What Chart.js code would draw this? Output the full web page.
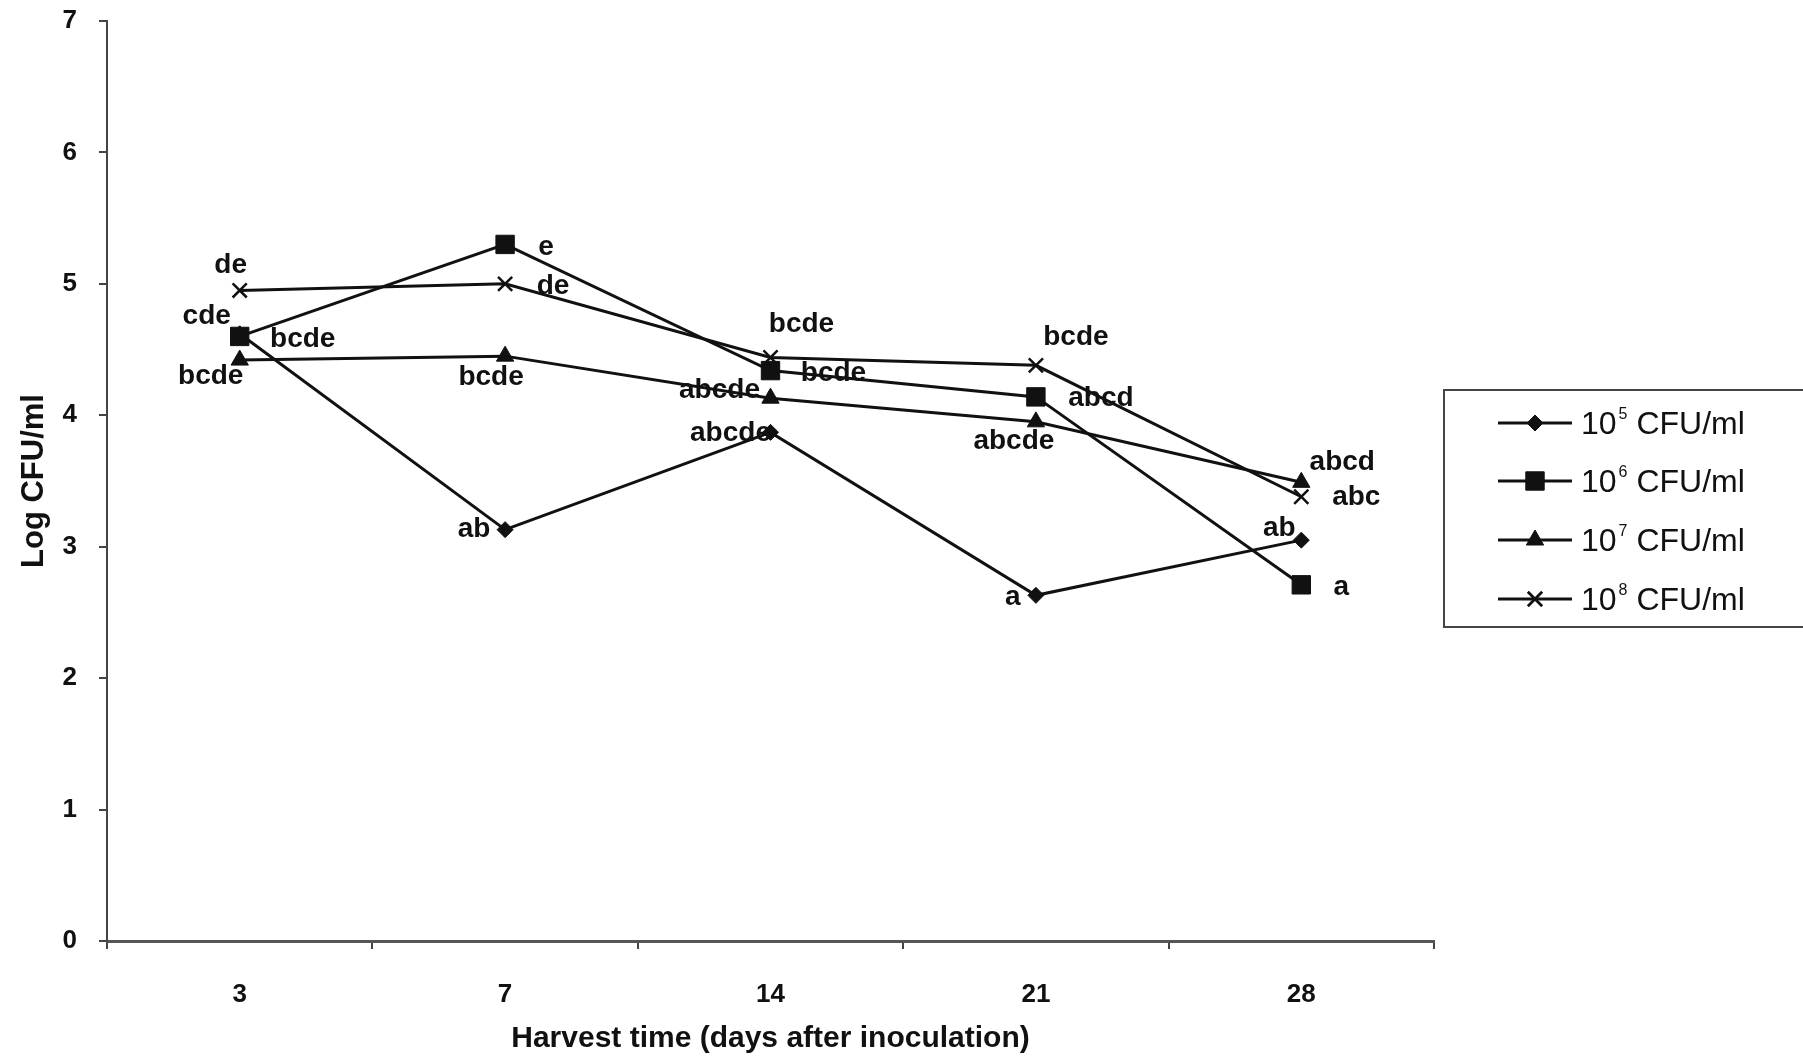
<!DOCTYPE html>
<html>
<head>
<meta charset="utf-8">
<script src="https://cdn.jsdelivr.net/npm/chart.js@4.4.0/dist/chart.umd.min.js"></script>
<style>
  html, body { margin: 0; background: #fff; }
  canvas { display: block; }
</style>
</head>
<body>
<canvas id="myChart" width="1803" height="1061"></canvas>
<script>
// Harvest days (x categories)
var days = ['3', '7', '14', '21', '28'];
var yTicks = [0, 1, 2, 3, 4, 5, 6, 7];

// Log CFU/ml per inoculum level
var cfu5 = [4.62, 3.13, 3.87, 2.63, 3.05];
var cfu6 = [4.60, 5.30, 4.34, 4.14, 2.71];
var cfu7 = [4.42, 4.45, 4.13, 3.95, 3.49];
var cfu8 = [4.95, 5.00, 4.44, 4.38, 3.38];

// significance letters
var letters5 = ['cde', 'ab', 'abcde', 'a', 'ab'];
var letters6 = ['bcde', 'e', 'bcde', 'abcd', 'a'];
var letters7 = ['bcde', 'bcde', 'abcde', 'abcde', 'abcd'];
var letters8 = ['de', 'de', 'bcde', 'bcde', 'abc'];

var exponents = ['5', '6', '7', '8'];

// where each letter sits relative to its point (px)
var labelOffsets = [
    [[-33, -18], [-31, 0], [-40, 1], [-23, 2], [-22, -12]],
    [[63, 3], [41, 3], [63, 3], [65, 1], [40, 2]],
    [[-29, 16], [-14, 21], [-51, -8], [-22, 19], [41, -20]],
    [[-9, -25], [48, 2], [31, -33], [40, -28], [55, 1]]
];

var ink = '#111';
var FONT = "'Liberation Sans', Arial, sans-serif";
Chart.defaults.font.family = FONT;
Chart.defaults.color = ink;

var styles = [
    { pointStyle: 'rectRot', pointRadius: 8 },
    { pointStyle: 'rect', pointRadius: 13 },
    { pointStyle: 'triangle', pointRadius: 10 },
    { pointStyle: 'crossRot', pointRadius: 10 }
];
var allLetters = [letters5, letters6, letters7, letters8];

function makeSet(data, i) {
    return {
        label: '10' + exponents[i] + ' CFU/ml',
        data: data,
        borderColor: ink,
        backgroundColor: ink,
        borderWidth: 3,
        pointStyle: styles[i].pointStyle,
        pointRadius: styles[i].pointRadius,
        pointBackgroundColor: ink,
        pointBorderColor: ink,
        pointBorderWidth: i === 3 ? 2.5 : 1,
        tension: 0,
        order: i === 0 ? 1 : 0
    };
}

// letters next to the points
var letterPlugin = {
    id: 'letters',
    afterDatasetsDraw: function(chart) {
        var ctx = chart.ctx;
        ctx.save();
        ctx.font = 'bold 28px ' + FONT;
        ctx.fillStyle = ink;
        ctx.textAlign = 'center';
        ctx.textBaseline = 'middle';
        allLetters.forEach(function(lts, i) {
            var meta = chart.getDatasetMeta(i);
            lts.forEach(function(t, j) {
                var p = meta.data[j];
                ctx.fillText(t, p.x + labelOffsets[i][j][0], p.y + labelOffsets[i][j][1]);
            });
        });
        ctx.restore();
    }
};

// boxed legend on the right with superscript exponents
var legendPlugin = {
    id: 'boxLegend',
    afterDraw: function(chart) {
        var ctx = chart.ctx;
        ctx.save();
        ctx.strokeStyle = '#444';
        ctx.lineWidth = 2;
        ctx.strokeRect(1444, 390, 380, 237);
        var rows = [423, 481, 540, 599];
        chart.data.datasets.forEach(function(ds, i) {
            var y = rows[i];
            ctx.strokeStyle = ink;
            ctx.lineWidth = 3;
            ctx.beginPath();
            ctx.moveTo(1498, y);
            ctx.lineTo(1572, y);
            ctx.stroke();
            ctx.fillStyle = ink;
            ctx.lineWidth = i === 3 ? 2.5 : 1;
            Chart.helpers.drawPoint(ctx, {
                pointStyle: ds.pointStyle,
                radius: ds.pointRadius,
                rotation: 0,
                borderWidth: ctx.lineWidth
            }, 1535, y);
            if (i === 3) ctx.stroke();
            ctx.textBaseline = 'middle';
            ctx.textAlign = 'left';
            ctx.font = '32px ' + FONT;
            var x = 1581;
            ctx.fillText('10', x, y + 2);
            x += ctx.measureText('10').width + 2;
            ctx.font = '16px ' + FONT;
            ctx.fillText(exponents[i], x, y - 8);
            x += ctx.measureText(exponents[i]).width;
            ctx.font = '32px ' + FONT;
            ctx.fillText(' CFU/ml', x, y + 2);
        });
        ctx.restore();
    }
};

var ctx = document.getElementById('myChart').getContext('2d');
var chart = new Chart(ctx, {
    type: 'line',
    data: {
        labels: days,
        datasets: [makeSet(cfu5, 0), makeSet(cfu6, 1), makeSet(cfu7, 2), makeSet(cfu8, 3)]
    },
    options: {
        responsive: false,
        animation: false,
        layout: { padding: { top: 21, right: 369, left: 0, bottom: 0 } },
        plugins: {
            legend: { display: false },
            tooltip: { enabled: false }
        },
        scales: {
            x: {
                offset: true,
                grid: { offset: true, drawOnChartArea: false, drawTicks: true, tickLength: 8, color: '#444', lineWidth: 2 },
                border: { color: '#555', width: 3 },
                ticks: { font: { size: 26, weight: 'bold' }, color: ink, padding: 30 },
                title: {
                    display: true,
                    text: 'Harvest time (days after inoculation)',
                    font: { size: 30, weight: 'bold' },
                    color: ink,
                    padding: { top: 0, bottom: 4 }
                },
                afterFit: function(scale) { scale.height = 120; }
            },
            y: {
                min: 0,
                max: 7,
                afterBuildTicks: function(scale) {
                    scale.ticks = yTicks.map(function(v) { return { value: v }; });
                },
                grid: { drawOnChartArea: false, drawTicks: true, tickLength: 8, color: '#444', lineWidth: 2 },
                border: { color: '#444', width: 2 },
                ticks: { font: { size: 26, weight: 'bold' }, color: ink, padding: 22 },
                title: {
                    display: true,
                    text: 'Log CFU/ml',
                    font: { size: 31, weight: 'bold' },
                    color: ink,
                    padding: { top: 16, bottom: 0 }
                },
                afterFit: function(scale) {
                    scale.width = 107;
                    scale.paddingTop = 0;
                    scale.paddingBottom = 0;
                }
            }
        }
    },
    plugins: [letterPlugin, legendPlugin]
});
</script>
</body>
</html>
